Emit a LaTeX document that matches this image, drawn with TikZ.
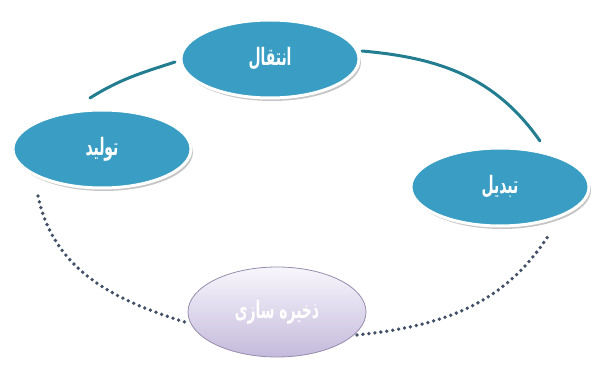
\documentclass[tikz,border=0pt]{standalone}
\usepackage{fontspec}
\newfontfamily\arabicfont[Script=Arabic]{DejaVu Sans}
\TeXXeTstate=1
\usetikzlibrary{shapes.geometric,shadows,calc}
\definecolor{tealfill}{RGB}{58,158,196}
\definecolor{tealline}{RGB}{35,125,145}
\definecolor{dotcol}{RGB}{65,80,102}
\definecolor{lavtop}{RGB}{248,246,252}
\definecolor{lavbot}{RGB}{196,186,220}
\definecolor{lavline}{RGB}{150,140,172}
\newcommand{\artext}[1]{\scalebox{0.58}[1]{\beginR #1\endR}}
\tikzset{
  stage/.style={ellipse, fill=tealfill, draw=white, line width=3pt, outer sep=0pt,
    minimum width=178pt, minimum height=78pt, inner sep=0pt, text=white,
    font=\arabicfont\bfseries\fontsize{24}{28}\selectfont,
    drop shadow={shadow xshift=2pt, shadow yshift=-3pt, opacity=0.45, fill=gray}},
  storebox/.style={ellipse, top color=lavtop, bottom color=lavbot, draw=lavline,
    line width=0.8pt, outer sep=0pt, minimum width=178pt, minimum height=90pt,
    inner sep=0pt, text=white, font=\arabicfont\bfseries\fontsize{24}{28}\selectfont},
  solidlink/.style={draw=tealline, line width=3pt, line cap=round},
  dotlink/.style={draw=dotcol, line width=3.8pt, line cap=round, dash pattern=on 0pt off 6pt},
}
\begin{document}
\begin{tikzpicture}[x=1pt,y=1pt]
\useasboundingbox (0,0) rectangle (591,367);
\node[stage] (T) at (270,308) {\artext{انتقال}};
\node[stage] (L) at (102,218) {\artext{تولید}};
\node[stage] (R) at (500,180) {\artext{تبدیل}};
\node[storebox] (B) at (277,55) {\artext{ذخیره سازی}};
\draw[solidlink] ($(L.center)+(-12,51)$) to[out=32, in=198] ($(T.center)+(-95,-3)$);
\draw[solidlink] ($(T.center)+(92,8)$) to[out=-5, in=125] ($(R.center)+(40,46)$);
\draw[dotlink] ($(B.center)+(80,-23)$) to[out=6, in=238] ($(R.center)+(50,-46)$);
\draw[dotlink] ($(L.center)+(-64,-47)$) to[out=-78, in=163] ($(B.center)+(-89,-11)$);
\end{tikzpicture}
\end{document}
